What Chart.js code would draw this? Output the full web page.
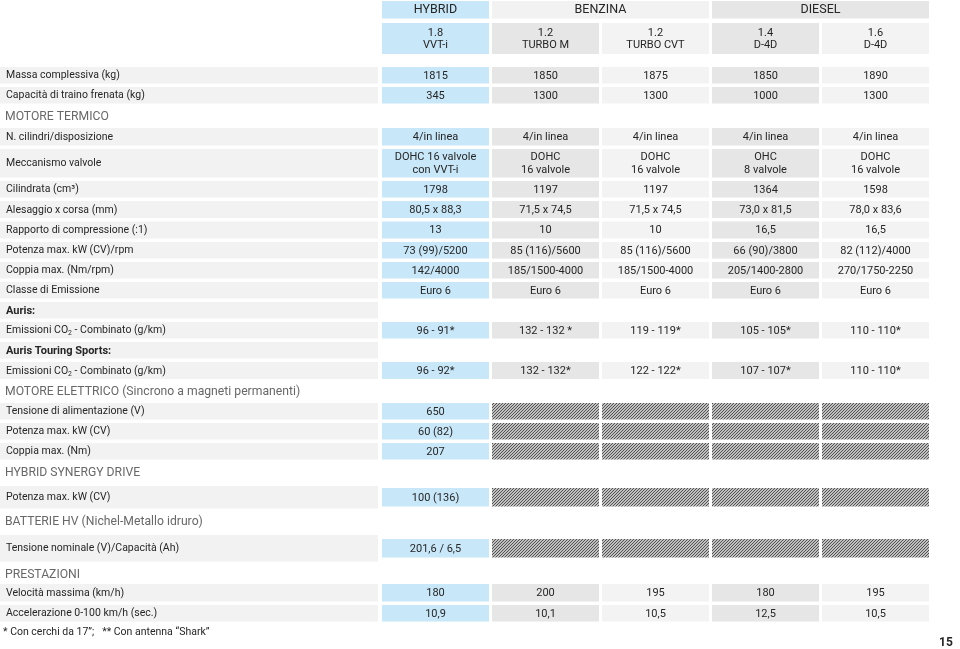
<!DOCTYPE html>
<html>
<head>
<meta charset="utf-8">
<script src="https://cdn.jsdelivr.net/npm/chart.js@4/dist/chart.umd.min.js"></script>
<style>
  html, body { margin: 0; padding: 0; background: #fff; }
  #wrap { width: 960px; height: 649px; }
</style>
</head>
<body>
<div id="wrap"><canvas id="specChart" width="960" height="649"></canvas></div>
<script>
// ---- data ----
const fuelGroups = ["HYBRID", "BENZINA", "DIESEL"];
const groupSpans = [1, 2, 2];
const models = ["1.8\nVVT-i", "1.2\nTURBO M", "1.2\nTURBO CVT", "1.4\nD-4D", "1.6\nD-4D"];

const rowLabels = [
  "Massa complessiva (kg)",
  "Capacità di traino frenata (kg)",
  "MOTORE TERMICO",
  "N. cilindri/disposizione",
  "Meccanismo valvole",
  "Cilindrata (cm³)",
  "Alesaggio x corsa (mm)",
  "Rapporto di compressione (:1)",
  "Potenza max. kW (CV)/rpm",
  "Coppia max. (Nm/rpm)",
  "Classe di Emissione",
  "Auris:",
  "Emissioni CO₂ - Combinato (g/km)",
  "Auris Touring Sports:",
  "Emissioni CO₂ - Combinato (g/km)",
  "MOTORE ELETTRICO (Sincrono a magneti permanenti)",
  "Tensione di alimentazione (V)",
  "Potenza max. kW (CV)",
  "Coppia max. (Nm)",
  "HYBRID SYNERGY DRIVE",
  "Potenza max. kW (CV)",
  "BATTERIE HV (Nichel-Metallo idruro)",
  "Tensione nominale (V)/Capacità (Ah)",
  "PRESTAZIONI",
  "Velocità massima (km/h)",
  "Accelerazione 0-100 km/h (sec.)"
];
// value = row with cells, section = grey heading, sub = bold sub heading
const rowKinds = ["value", "value", "section", "value", "value", "value", "value", "value", "value", "value", "value",
  "sub", "value", "sub", "value", "section", "value", "value", "value", "section", "value", "section", "value",
  "section", "value", "value"];

// null = not applicable (hatched cell)
const hybridValues = ["1815", "345", "", "4/in linea", "DOHC 16 valvole\ncon VVT-i", "1798", "80,5 x 88,3", "13",
  "73 (99)/5200", "142/4000", "Euro 6", "", "96 - 91*", "", "96 - 92*", "", "650", "60 (82)", "207", "",
  "100 (136)", "", "201,6 / 6,5", "", "180", "10,9"];
const turboMValues = ["1850", "1300", "", "4/in linea", "DOHC\n16 valvole", "1197", "71,5 x 74,5", "10",
  "85 (116)/5600", "185/1500-4000", "Euro 6", "", "132 - 132 *", "", "132 - 132*", "", null, null, null, "",
  null, "", null, "", "200", "10,1"];
const turboCvtValues = ["1875", "1300", "", "4/in linea", "DOHC\n16 valvole", "1197", "71,5 x 74,5", "10",
  "85 (116)/5600", "185/1500-4000", "Euro 6", "", "119 - 119*", "", "122 - 122*", "", null, null, null, "",
  null, "", null, "", "195", "10,5"];
const d4d14Values = ["1850", "1000", "", "4/in linea", "OHC\n8 valvole", "1364", "73,0 x 81,5", "16,5",
  "66 (90)/3800", "205/1400-2800", "Euro 6", "", "105 - 105*", "", "107 - 107*", "", null, null, null, "",
  null, "", null, "", "180", "12,5"];
const d4d16Values = ["1890", "1300", "", "4/in linea", "DOHC\n16 valvole", "1598", "78,0 x 83,6", "16,5",
  "82 (112)/4000", "270/1750-2250", "Euro 6", "", "110 - 110*", "", "110 - 110*", "", null, null, null, "",
  null, "", null, "", "195", "10,5"];

const footnote = "* Con cerchi da 17”;   ** Con antenna “Shark”";
const pageNumber = "15";

// ---- layout (sizes in chart units) ----
const rowHeights = [20, 20, 21, 21, 32, 20, 20.5, 20.5, 20, 20, 20, 20, 20, 20, 20.5, 20.5, 20, 20, 20,
  23, 26, 23, 30, 19, 21, 20];
const tableTop = 67;
const rowGap = 3.5;
const header1 = { top: 1, height: 17.5 };
const header2 = { top: 23, height: 31 };
const labelColWidth = 378;
const firstColLeft = 382;
const colWidth = 107;
const colGap = 3;

const blue = "#c8e7f8";
const colFills = [blue, "#e6e6e6", "#f3f3f3", "#e6e6e6", "#f3f3f3"];
const groupFills = [blue, "#f2f2f2", "#e6e6e6"];
const labelFill = "#f2f2f2";
const textColor = "#262626";
const sectionColor = "#686868";
const FONT = "Roboto, 'Open Sans', sans-serif";

const columns = [hybridValues, turboMValues, turboCvtValues, d4d14Values, d4d16Values];

function hatchPattern(ctx) {
  const c = document.createElement("canvas");
  c.width = 3;
  c.height = 3;
  const p = c.getContext("2d");
  p.fillStyle = "#f0f0f0";
  p.fillRect(0, 0, 3, 3);
  p.strokeStyle = "#4a4a4a";
  p.lineWidth = 1.1;
  p.beginPath();
  p.moveTo(0, 3); p.lineTo(3, 0);
  p.moveTo(-1, 1); p.lineTo(1, -1);
  p.moveTo(2, 4); p.lineTo(4, 2);
  p.stroke();
  return ctx.createPattern(c, "repeat");
}

// draws text, CO₂ gets a real subscript
function drawText(ctx, text, x, y, size, weight, color, align) {
  ctx.fillStyle = color;
  ctx.textBaseline = "middle";
  const font = (s) => `${weight} ${s}px ${FONT}`;
  if (text.indexOf("₂") < 0) {
    ctx.font = font(size);
    ctx.textAlign = align;
    ctx.fillText(text, x, y);
    return;
  }
  const parts = text.split("₂");
  ctx.textAlign = "left";
  let cx = x;
  parts.forEach((part, i) => {
    ctx.font = font(size);
    ctx.fillText(part, cx, y);
    cx += ctx.measureText(part).width;
    if (i < parts.length - 1) {
      ctx.font = font(size * 0.65);
      ctx.fillText("2", cx, y + 3);
      cx += ctx.measureText("2").width;
    }
  });
}

function drawLines(ctx, text, cx, cy, size, color) {
  const lines = text.split("\n");
  const lh = size + 1.5;
  lines.forEach((line, i) => {
    drawText(ctx, line, cx, cy + (i - (lines.length - 1) / 2) * lh, size, "normal", color, "center");
  });
}

const tablePlugin = {
  id: "specTable",
  beforeDatasetsDraw(chart) {
    const ctx = chart.ctx;
    const xs = chart.scales.x;
    const ys = chart.scales.y;
    const hatch = hatchPattern(ctx);
    const box = (x0, x1, y0, y1, fill) => {
      const px0 = xs.getPixelForValue(x0), px1 = xs.getPixelForValue(x1);
      const py0 = ys.getPixelForValue(y0), py1 = ys.getPixelForValue(y1);
      ctx.fillStyle = fill;
      ctx.fillRect(px0, py0, px1 - px0, py1 - py0);
      return { cx: (px0 + px1) / 2, cy: (py0 + py1) / 2, left: px0 };
    };
    const colLeft = (k) => firstColLeft + k * (colWidth + colGap);

    ctx.save();
    // header row 1: fuel groups
    let k = 0;
    fuelGroups.forEach((g, gi) => {
      const x0 = colLeft(k);
      const x1 = colLeft(k + groupSpans[gi] - 1) + colWidth;
      const b = box(x0, x1, header1.top, header1.top + header1.height, groupFills[gi]);
      drawText(ctx, g, b.cx, b.cy + 0.5, 12.5, "normal", textColor, "center");
      k += groupSpans[gi];
    });
    // header row 2: models
    models.forEach((m, mi) => {
      const b = box(colLeft(mi), colLeft(mi) + colWidth, header2.top, header2.top + header2.height, colFills[mi]);
      drawLines(ctx, m, b.cx, b.cy + 0.5, 11, textColor);
    });

    // body rows
    let top = tableTop;
    rowLabels.forEach((label, r) => {
      const h = rowHeights[r];
      const kind = rowKinds[r];
      if (kind === "section") {
        drawText(ctx, label, xs.getPixelForValue(5), ys.getPixelForValue(top + 9.5), 12.2, "normal", sectionColor, "left");
      } else {
        const lb = box(0, labelColWidth, top, top + h - rowGap, labelFill);
        if (kind === "sub") {
          drawText(ctx, label, xs.getPixelForValue(6), lb.cy + 0.5, 11, "bold", textColor, "left");
        } else {
          drawText(ctx, label, xs.getPixelForValue(6), lb.cy + 0.5, 10.5, "normal", textColor, "left");
        }
        if (kind === "value") {
          const multi = columns.some((col) => col[r] && col[r].indexOf("\n") >= 0);
          const fullH = h - rowGap;
          const ch = multi ? fullH : Math.min(fullH, 18.5);
          const cTop = top + (fullH - ch) / 2;
          columns.forEach((col, ci) => {
            const v = col[r];
            const b = box(colLeft(ci), colLeft(ci) + colWidth, cTop, cTop + ch, v === null ? hatch : colFills[ci]);
            if (v !== null && v !== "") drawLines(ctx, v, b.cx, b.cy + 0.5, 11, textColor);
          });
        }
      }
      top += h;
    });

    // footnote and page number
    drawText(ctx, footnote, xs.getPixelForValue(3), ys.getPixelForValue(top + 7.5), 10.5, "normal", textColor, "left");
    drawText(ctx, pageNumber, xs.getPixelForValue(946), ys.getPixelForValue(643), 12, "bold", textColor, "center");
    ctx.restore();
  }
};

new Chart(document.getElementById("specChart"), {
  type: "scatter",
  data: { datasets: [] },
  options: {
    responsive: false,
    animation: false,
    devicePixelRatio: 1,
    layout: { padding: 0 },
    scales: {
      x: { type: "linear", min: 0, max: 960, offset: false, display: false },
      y: { type: "linear", min: 0, max: 649, reverse: true, offset: false, display: false }
    },
    plugins: { legend: { display: false }, tooltip: { enabled: false } }
  },
  plugins: [tablePlugin]
});
</script>
</body>
</html>
